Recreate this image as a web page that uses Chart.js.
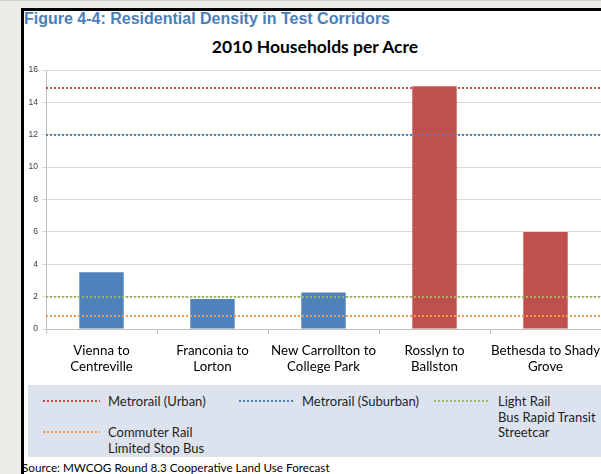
<!DOCTYPE html>
<html>
<head>
<meta charset="utf-8">
<script src="https://cdn.jsdelivr.net/npm/chart.js@4/dist/chart.umd.min.js"></script>
<style>
  html, body { margin:0; padding:0; }
  body { width:601px; height:474px; overflow:hidden; background:#ecebe8; position:relative; font-family: Lato, "Open Sans", sans-serif; }
  #topline { position:absolute; left:0; top:0; width:601px; height:1px; background:#d0d0cc; }
  #frame { position:absolute; left:21px; top:8px; width:600px; height:480px; background:#fff; border-left:3px solid #000; border-top:3px solid #000; box-sizing:border-box; }
  #figtitle { position:absolute; left:24px; top:10px; font-family:"Liberation Sans Narrow", "Liberation Sans", Arial, sans-serif; font-weight:bold; font-size:16px; color:#4a7ebb; white-space:nowrap; }
  #ctitle { position:absolute; left:0; width:630px; top:36px; text-align:center; font-family: Lato, sans-serif; font-weight:bold; font-size:17.5px; color:#000; white-space:nowrap; }
  #cv { position:absolute; left:24px; top:60px; }
  #legend { position:absolute; left:28px; top:385px; width:573px; height:72px; background:#dce3ee; }
  .sw { position:absolute; height:2px; }
  .lt { position:absolute; font-size:13px; line-height:15.5px; color:#1e1e1e; white-space:nowrap; }
  #source { position:absolute; left:22px; top:460px; font-size:11.7px; color:#000; white-space:nowrap; }
</style>
</head>
<body>
<div id="topline"></div>
<div id="frame"></div>
<div id="figtitle">Figure 4-4: Residential Density in Test Corridors</div>
<div id="ctitle">2010 Households per Acre</div>
<canvas id="cv" width="577" height="325"></canvas>
<div id="legend"></div>
<div id="source">Source: MWCOG Round 8.3 Cooperative Land Use Forecast</div>
<script>
// ---- data ----
const categories = [
  ["Vienna to", "Centreville"],
  ["Franconia to", "Lorton"],
  ["New Carrollton to", "College Park"],
  ["Rosslyn to", "Ballston"],
  ["Bethesda to Shady", "Grove"]
];
const households = [3.5, 1.85, 2.25, 15, 6];
const barColors = ["#4f81bd", "#4f81bd", "#4f81bd", "#c0504d", "#c0504d"];
const refNames = ["Metrorail (Urban)", "Metrorail (Suburban)", "Light Rail\nBus Rapid Transit\nStreetcar", "Commuter Rail\nLimited Stop Bus"];
const refValues = [14.9, 12, 2, 0.8];
const refColors = ["#c0504d", "#4f81bd", "#9bbb59", "#f79646"];
const yTicks = [0, 2, 4, 6, 8, 10, 12, 14, 16];

// ---- legend (HTML) ----
const legendPos = [
  {sx: 15, sw: 57, tx: 80, ty: 9},
  {sx: 211, sw: 54, tx: 274, ty: 9},
  {sx: 406, sw: 56, tx: 470, ty: 9},
  {sx: 15, sw: 57, tx: 80, ty: 40}
];
const lg = document.getElementById('legend');
refNames.forEach((n, i) => {
  const p = legendPos[i];
  const s = document.createElement('div');
  s.className = 'sw';
  s.style.left = p.sx + 'px';
  s.style.top = (p.ty + 6) + 'px';
  s.style.width = p.sw + 'px';
  s.style.background = `repeating-linear-gradient(to right, ${refColors[i]} 0 2px, transparent 2px 4px)`;
  lg.appendChild(s);
  const t = document.createElement('div');
  t.className = 'lt';
  t.style.left = p.tx + 'px';
  t.style.top = p.ty + 'px';
  t.innerHTML = n.split('\n').join('<br>');
  lg.appendChild(t);
});

// ---- reference lines plugin ----
const refLines = {
  id: 'refLines',
  afterDatasetsDraw(chart) {
    const {ctx, chartArea, scales: {y}} = chart;
    ctx.save();
    refValues.forEach((v, i) => {
      const py = Math.round(y.getPixelForValue(v));
      ctx.beginPath();
      ctx.strokeStyle = refColors[i];
      ctx.lineWidth = 2;
      ctx.setLineDash([2, 2]);
      ctx.moveTo(chartArea.left, py);
      ctx.lineTo(chartArea.right, py);
      ctx.stroke();
    });
    ctx.restore();
  }
};

new Chart(document.getElementById('cv'), {
  type: 'bar',
  data: {
    labels: categories,
    datasets: [{
      data: households,
      backgroundColor: barColors,
      barPercentage: 0.4,
      categoryPercentage: 1.0
    }]
  },
  options: {
    responsive: false,
    devicePixelRatio: 1,
    animation: false,
    layout: { padding: { top: 10, left: 0, right: 0, bottom: 0 } },
    plugins: { legend: { display: false }, tooltip: { enabled: false }, title: { display: false } },
    scales: {
      x: {
        grid: { display: true, drawOnChartArea: false, drawTicks: true, tickLength: 5, offset: true, color: '#bfbfbf' },
        border: { color: '#bfbfbf' },
        ticks: { color: '#000', font: { family: 'Lato', size: 13.3 }, padding: 9, maxRotation: 0, autoSkip: false },
        afterFit(s) { s.height = 56; s.paddingLeft = 0; s.paddingRight = 0; }
      },
      y: {
        min: 0, max: 16,
        afterBuildTicks(s) { s.ticks = yTicks.map(v => ({value: v})); },
        grid: { color: '#d9d9d9', tickLength: 4, drawTicks: true },
        border: { color: '#bfbfbf' },
        ticks: { color: '#404040', font: { family: 'Liberation Sans', size: 8.5 }, padding: 4 },
        afterFit(s) { s.width = 22; s.paddingTop = 0; s.paddingBottom = 0; }
      }
    }
  },
  plugins: [refLines]
});
</script>
</body>
</html>
